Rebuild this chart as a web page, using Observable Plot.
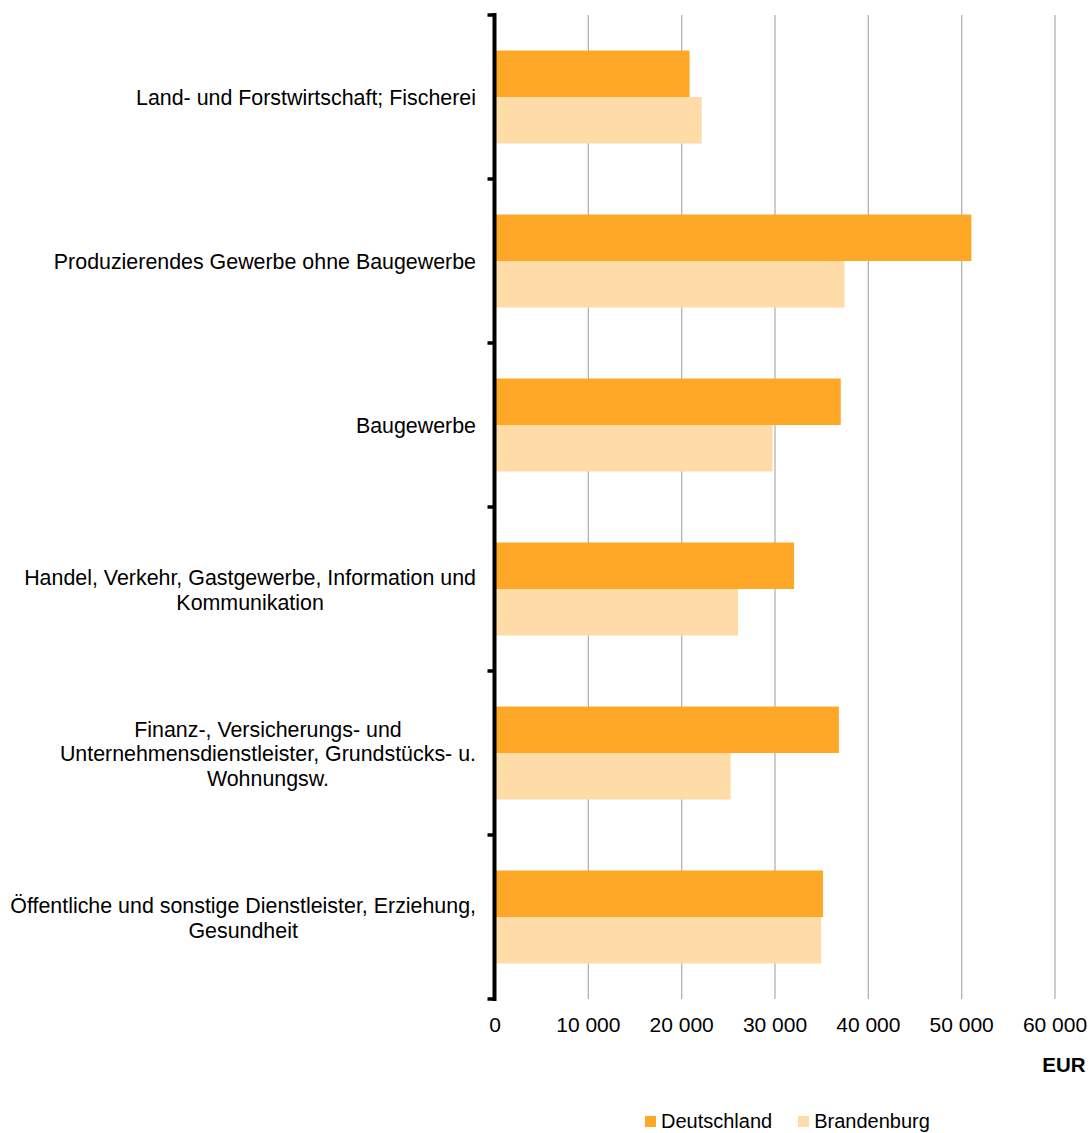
<!DOCTYPE html>
<html>
<head>
<meta charset="utf-8">
<script src="https://cdn.jsdelivr.net/npm/d3@7"></script>
<script src="https://cdn.jsdelivr.net/npm/@observablehq/plot@0.6"></script>
<style>
  body { margin: 0; background: #fff; font-family: "Liberation Sans", Arial, sans-serif; }
  #wrap { position: relative; width: 1092px; height: 1133px; }
  #legend { position: absolute; left: 645px; top: 1110px; display: flex; align-items: center; font-size: 20px; color: #000; }
  .item { display: flex; align-items: center; margin-right: 26px; }
  .sw { width: 11px; height: 11px; margin-right: 5px; }
</style>
</head>
<body>
<div id="wrap"><div id="chart"></div><div id="legend"></div></div>
<script>
const categories = [
  "Land- und Forstwirtschaft; Fischerei",
  "Produzierendes Gewerbe ohne Baugewerbe",
  "Baugewerbe",
  "Handel, Verkehr, Gastgewerbe, Information und Kommunikation",
  "Finanz-, Versicherungs- und Unternehmensdienstleister, Grundstücks- u. Wohnungsw.",
  "Öffentliche und sonstige Dienstleister, Erziehung, Gesundheit"
];
const categoryLabels = [
  "Land- und Forstwirtschaft; Fischerei",
  "Produzierendes Gewerbe ohne Baugewerbe",
  "Baugewerbe",
  "Handel, Verkehr, Gastgewerbe, Information und\nKommunikation",
  "Finanz-, Versicherungs- und\nUnternehmensdienstleister, Grundstücks- u.\nWohnungsw.",
  "Öffentliche und sonstige Dienstleister, Erziehung,\nGesundheit"
];
const seriesNames = ["Deutschland", "Brandenburg"];
const deutschland = [20900, 51100, 37100, 32100, 36900, 35200];
const brandenburg = [22200, 37500, 29800, 26100, 25300, 35000];
const xTicks = [0, 10000, 20000, 30000, 40000, 50000, 60000];
const colors = ["#FFA726", "#FEDBA7"];
const unitLabel = "EUR";

const rowsD = categories.map((c, i) => ({category: c, series: seriesNames[0], value: deutschland[i]}));
const rowsB = categories.map((c, i) => ({category: c, series: seriesNames[1], value: brandenburg[i]}));

const FONT = '"Liberation Sans", Arial, sans-serif';
const LABEL_SIZE = 21.4;
const ctx = document.createElement("canvas").getContext("2d");
ctx.font = `${LABEL_SIZE}px ${FONT}`;
const blockWidth = s => Math.max(...s.split("\n").map(l => ctx.measureText(l).width));

const fmt = d => d3.format(",")(d).replace(/,/g, " ");

function yAxisLine(index, scales, values, dims) {
  const g = d3.create("svg:g");
  const x0 = scales.x(0);
  const ys = categories.map(c => scales.y(c));
  const step = ys[1] - ys[0];
  const bounds = ys.concat([ys[ys.length - 1] + step]);
  g.append("line")
    .attr("x1", x0).attr("x2", x0)
    .attr("y1", bounds[0] - 2).attr("y2", bounds[bounds.length - 1] + 2)
    .attr("stroke", "#000").attr("stroke-width", 4);
  for (const b of bounds) {
    g.append("line")
      .attr("x1", x0 - 7).attr("x2", x0)
      .attr("y1", b).attr("y2", b)
      .attr("stroke", "#000").attr("stroke-width", 3.5);
  }
  return g.node();
}

const labelMarks = categories.map((c, i) =>
  Plot.text([c], {
    y: d => d,
    text: () => categoryLabels[i],
    frameAnchor: "left",
    textAnchor: "middle",
    lineAnchor: "middle",
    lineHeight: 1.15,
    fontSize: LABEL_SIZE,
    fill: "#000",
    dx: -(19 + blockWidth(categoryLabels[i]) / 2)
  })
);

const chart = Plot.plot({
  width: 1092,
  height: 1085,
  marginLeft: 494.5,
  marginRight: 37.5,
  marginTop: 15,
  marginBottom: 86,
  style: {fontFamily: FONT, fontSize: "21px", color: "#000", background: "#fff"},
  x: {domain: [0, 60000]},
  y: {domain: categories, padding: 0, axis: null},
  color: {domain: seriesNames, range: colors},
  marks: [
    Plot.gridX(xTicks, {stroke: "#b3b3b3", strokeOpacity: 1, strokeWidth: 1.3}),
    Plot.barX(rowsD, {x: "value", y: "category", fill: "series", insetTop: 35.5, insetBottom: 82}),
    Plot.barX(rowsB, {x: "value", y: "category", fill: "series", insetTop: 82, insetBottom: 35.5}),
    Plot.axisX(xTicks, {tickSize: 0, tickPadding: 18, tickFormat: fmt, label: null, fontSize: 21, fill: "#000"}),
    yAxisLine,
    ...labelMarks,
    Plot.text([unitLabel], {text: d => d, frameAnchor: "bottom-right", dx: 30.5, dy: 66, textAnchor: "end", lineAnchor: "middle", fontWeight: "bold", fontSize: 20.5, fill: "#000"})
  ]
});
document.getElementById("chart").appendChild(chart);

const legend = document.getElementById("legend");
seriesNames.forEach((s, i) => {
  const item = document.createElement("div");
  item.className = "item";
  const sw = document.createElement("div");
  sw.className = "sw";
  sw.style.background = colors[i];
  const t = document.createElement("span");
  t.textContent = s;
  item.appendChild(sw);
  item.appendChild(t);
  legend.appendChild(item);
});
</script>
</body>
</html>
